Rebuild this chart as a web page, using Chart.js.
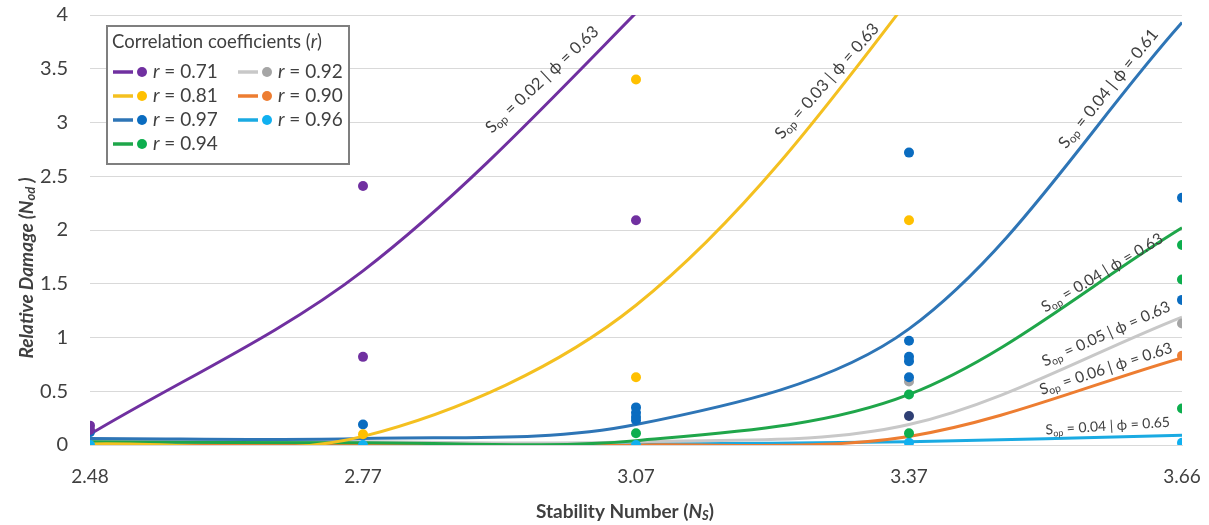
<!DOCTYPE html>
<html><head><meta charset="utf-8">
<script src="https://cdn.jsdelivr.net/npm/chart.js@4"></script>
<style>html,body{margin:0;padding:0;background:#fff}#wrap{width:1209px;height:525px}</style>
</head><body><div id="wrap"><canvas id="c" width="1209" height="525"></canvas></div>
<script>
// ---------- DATA ----------
const categories = ['2.48', '2.77', '3.07', '3.37', '3.66'];
const yTickValues = [0, 0.5, 1, 1.5, 2, 2.5, 3, 3.5, 4];
const seriesLabels = ['r = 0.71', 'r = 0.81', 'r = 0.97', 'r = 0.94', 'r = 0.92', 'r = 0.90', 'r = 0.96'];

// fitted curves (values at each category)
const fitPurple = [0.10, 1.62, 4.02, 6.8, 9.5];
const fitYellow = [0.01, 0.08, 1.30, 4.15, 8.0];
const fitBlue   = [0.06, 0.06, 0.19, 1.08, 3.93];
const fitGreen  = [0.03, 0.02, 0.04, 0.47, 2.02];
const fitGray   = [0.04, 0.03, 0.03, 0.19, 1.19];
const fitOrange = [0.00, 0.00, 0.00, 0.08, 0.81];
const fitCyan   = [0.00, 0.00, 0.01, 0.03, 0.09];

// observed points [Ns, value]
const obsPurple = [['2.48', 0.18], ['2.48', 0.14], ['2.77', 2.41], ['2.77', 0.82], ['3.07', 2.09]];
const obsYellow = [['2.77', 0.10], ['3.07', 3.40], ['3.07', 0.63], ['3.37', 2.09]];
const obsBlue   = [['2.48', 0.12], ['2.77', 0.19], ['3.07', 0.35], ['3.07', 0.30], ['3.07', 0.26], ['3.07', 0.23],
                   ['3.37', 2.72], ['3.37', 0.97], ['3.37', 0.82], ['3.37', 0.78], ['3.37', 0.63], ['3.66', 2.30], ['3.66', 1.35]];
const obsDark   = [['3.37', 0.27]];
const obsGreen  = [['3.07', 0.11], ['3.37', 0.47], ['3.37', 0.11], ['3.66', 1.86], ['3.66', 1.54], ['3.66', 0.34]];
const obsGray   = [['3.37', 0.59], ['3.66', 1.13]];
const obsOrange = [['3.66', 0.83]];
const obsCyan   = [['2.48', 0.00], ['2.77', 0.00], ['3.07', 0.00], ['3.37', 0.02], ['3.66', 0.02]];

// curve annotation texts: [Sop value, phi value]
const curveSop = ['0.02', '0.03', '0.04', '0.04', '0.05', '0.06', '0.04'];
const curvePhi = ['0.63', '0.63', '0.61', '0.63', '0.63', '0.63', '0.65'];

// ---------- STYLE ----------
const lineColors  = ['#7030A0', '#F4C020', '#2E75B6', '#1FA64A', '#C8C8C8', '#ED7D31', '#1AAAE2'];
const pointColors = ['#7030A0', '#FFC000', '#0A6CC0', '#0DAE4E', '#A5A5A5', '#ED7D31', '#10B0F0'];
const darkPointColor = '#2F3F74';
// annotation anchor (category index position, value), angle (deg), font size
const annAnchors = [[1.458, 2.93], [2.52, 2.87], [3.56, 2.78], [3.49, 1.27], [3.49, 0.77], [3.48, 0.51], [3.50, 0.14]];
const annAngles  = [-43, -48.5, -51, -31, -24, -18, -3.5];
const annSizes   = [16.5, 16.5, 16.5, 15.5, 15.5, 15.5, 14];

const fits = [fitPurple, fitYellow, fitBlue, fitGreen, fitGray, fitOrange, fitCyan];
const obs  = [obsPurple, obsYellow, obsBlue, obsGreen, obsGray, obsOrange, obsCyan];
const toPts = arr => arr.map(([ns, v]) => ({x: categories.indexOf(ns), y: v}));

const datasets = [];
obs.forEach((o, i) => datasets.push({
  type: 'scatter', data: toPts(o), backgroundColor: pointColors[i], borderWidth: 0, pointRadius: 5, pointHoverRadius: 5
}));
datasets.push({type: 'scatter', data: toPts(obsDark), backgroundColor: darkPointColor, borderWidth: 0, pointRadius: 5});
fits.forEach((f, i) => datasets.push({
  type: 'line', data: f.map((v, j) => ({x: j, y: v})), borderColor: lineColors[i], borderWidth: 3,
  pointRadius: 0, tension: 0.33, fill: false
}));

const FONT = 'Lato, "Open Sans", sans-serif';
const TXT = '#404040';

function drawRich(ctx, parts, x, y) {
  let cx = x;
  for (const p of parts) {
    ctx.font = p.font;
    ctx.fillText(p.t, cx, y + (p.dy || 0));
    cx += ctx.measureText(p.t).width;
  }
  return cx - x;
}
function richWidth(ctx, parts) {
  let w = 0;
  for (const p of parts) { ctx.font = p.font; w += ctx.measureText(p.t).width; }
  return w;
}

const overlay = {
  id: 'overlay',
  afterDatasetsDraw(chart) {
    const ctx = chart.ctx, xs = chart.scales.x, ys = chart.scales.y;
    ctx.save();
    ctx.fillStyle = TXT;
    ctx.textBaseline = 'middle';
    // curve annotations
    annAnchors.forEach((a, i) => {
      const px = xs.getPixelForValue(a[0]), py = ys.getPixelForValue(a[1]);
      const fs = annSizes[i];
      ctx.save();
      ctx.translate(px, py);
      ctx.rotate(annAngles[i] * Math.PI / 180);
      drawRich(ctx, [
        {t: 'S', font: `${fs}px ${FONT}`},
        {t: 'op', font: `${fs - 5}px ${FONT}`, dy: 4},
        {t: ' = ' + curveSop[i] + ' | \u03D5 = ' + curvePhi[i], font: `${fs}px ${FONT}`}
      ], 0, 0);
      ctx.restore();
    });
    // legend
    const lx = 107, ly = 26, lw = 242, lh = 138;
    ctx.fillStyle = '#fff';
    ctx.fillRect(lx, ly, lw, lh);
    ctx.strokeStyle = '#7F7F7F';
    ctx.lineWidth = 2;
    ctx.strokeRect(lx, ly, lw, lh);
    ctx.fillStyle = TXT;
    drawRich(ctx, [
      {t: 'Correlation coefficients (', font: `18.5px ${FONT}`},
      {t: 'r', font: `italic 18.5px ${FONT}`},
      {t: ')', font: `18.5px ${FONT}`}
    ], 112, 42);
    const rowsY = [72, 96, 120, 144];
    const colX = [113, 238];
    seriesLabels.forEach((lab, i) => {
      const col = i < 4 ? 0 : 1, row = i < 4 ? i : i - 4;
      const x0 = colX[col], y0 = rowsY[row];
      ctx.strokeStyle = lineColors[i];
      ctx.lineWidth = 3.5;
      ctx.beginPath(); ctx.moveTo(x0, y0); ctx.lineTo(x0 + 20, y0); ctx.stroke();
      ctx.fillStyle = pointColors[i];
      ctx.beginPath(); ctx.arc(x0 + 29, y0, 5, 0, Math.PI * 2); ctx.fill();
      ctx.fillStyle = TXT;
      const rest = lab.slice(1);
      drawRich(ctx, [
        {t: 'r', font: `italic 19px ${FONT}`},
        {t: rest, font: `19px ${FONT}`}
      ], x0 + 40, y0);
    });
    // axis titles
    ctx.fillStyle = TXT;
    const yParts = [
      {t: 'Relative Damage (', font: `italic bold 19px ${FONT}`},
      {t: 'N', font: `italic bold 19px ${FONT}`},
      {t: 'od', font: `italic bold 13px ${FONT}`, dy: 4},
      {t: ' )', font: `italic bold 19px ${FONT}`}
    ];
    const yw = richWidth(ctx, yParts);
    ctx.save();
    ctx.translate(27, 268);
    ctx.rotate(-Math.PI / 2);
    drawRich(ctx, yParts, -yw / 2, 0);
    ctx.restore();
    const xParts = [
      {t: 'Stability Number (', font: `bold 19px ${FONT}`},
      {t: 'N', font: `italic bold 19px ${FONT}`},
      {t: 'S', font: `italic bold 13px ${FONT}`, dy: 4},
      {t: ')', font: `bold 19px ${FONT}`}
    ];
    const xw = richWidth(ctx, xParts);
    drawRich(ctx, xParts, 625 - xw / 2, 512);
    ctx.restore();
  }
};

new Chart(document.getElementById('c'), {
  data: {datasets},
  options: {
    responsive: false,
    devicePixelRatio: 1,
    animation: false,
    layout: {padding: {top: 15, right: 27, left: 0, bottom: 0}},
    elements: {line: {capBezierPoints: false}},
    plugins: {legend: {display: false}, tooltip: {enabled: false}},
    scales: {
      x: {
        type: 'linear', min: 0, max: categories.length - 1,
        afterBuildTicks: s => { s.ticks = categories.map((c, i) => ({value: i})); },
        afterFit: s => { s.height = 80; s.paddingLeft = 0; s.paddingRight = 0; },
        ticks: {callback: v => categories[v], color: '#404040', font: {family: FONT, size: 19}, padding: 20, maxRotation: 0, autoSkip: false},
        grid: {display: false, drawTicks: false},
        border: {display: true, color: '#D9D9D9', width: 1}
      },
      y: {
        type: 'linear', min: 0, max: 4,
        afterBuildTicks: s => { s.ticks = yTickValues.map(v => ({value: v})); },
        afterFit: s => { s.width = 90; s.paddingTop = 0; s.paddingBottom = 0; },
        ticks: {callback: v => String(v), color: '#404040', font: {family: FONT, size: 20}, padding: 22},
        grid: {color: '#D9D9D9', lineWidth: 1, drawTicks: false},
        border: {display: false}
      }
    }
  },
  plugins: [overlay]
});
</script>
</body></html>
